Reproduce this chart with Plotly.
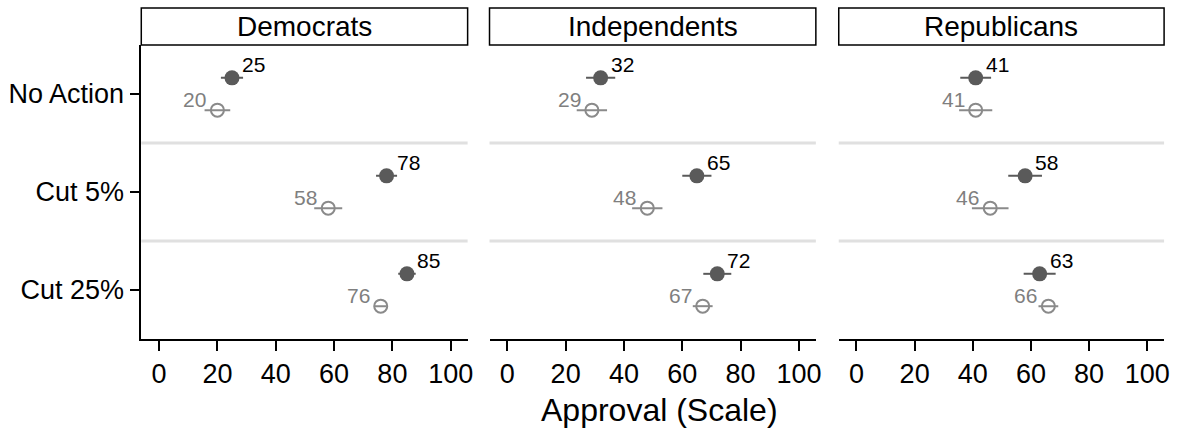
import plotly.graph_objects as go

# Panels, rows and tick labels
parties = ["Democrats", "Independents", "Republicans"]
policies = ["No Action", "Cut 5%", "Cut 25%"]
x_ticks = [0, 20, 40, 60, 80, 100]

# Mean approval per party (rows follow `policies`)
solid_mean = {
    "Democrats": [25, 78, 85],
    "Independents": [32, 65, 72],
    "Republicans": [41, 58, 63],
}
hollow_mean = {
    "Democrats": [20, 58, 76],
    "Independents": [29, 48, 67],
    "Republicans": [41, 46, 66],
}
# Half-width of the confidence interval
solid_ci = {
    "Democrats": [3.8, 3.6, 3.0],
    "Independents": [5.0, 5.0, 4.8],
    "Republicans": [5.3, 5.8, 5.5],
}
hollow_ci = {
    "Democrats": [4.4, 4.8, 2.0],
    "Independents": [5.2, 5.2, 3.4],
    "Republicans": [5.7, 6.3, 3.4],
}

W, H = 1188, 434
FONT = "Liberation Sans, Arial, sans-serif"
SOLID = "#5a5a5a"
HOLLOW = "#8a8a8a"
HOLLOW_TXT = "#7f7f7f"

panel_px = [(142, 470), (492, 820), (843, 1170)]
plot_top, plot_bot = 45, 339
strip_top = 8
y_lo = 1 - plot_bot / H
y_hi = 1 - plot_top / H
offset = 0.165  # vertical offset of the two series within a row

fig = go.Figure()
annotations = []
shapes = []

for i, party in enumerate(parties):
    ax = "" if i == 0 else str(i + 1)
    xref, yref = "x" + ax, "y" + ax
    rows = list(range(len(policies)))

    fig.add_trace(go.Scatter(
        x=solid_mean[party], y=[r - offset for r in rows],
        mode="markers", xaxis=xref, yaxis=yref, showlegend=False,
        marker=dict(size=15, color=SOLID, line=dict(width=0)),
        error_x=dict(type="data", array=solid_ci[party], color=SOLID,
                     thickness=2, width=0),
    ))
    fig.add_trace(go.Scatter(
        x=hollow_mean[party], y=[r + offset for r in rows],
        mode="markers", xaxis=xref, yaxis=yref, showlegend=False,
        marker=dict(size=13, symbol="circle-open", color=HOLLOW,
                    line=dict(width=2, color=HOLLOW)),
        error_x=dict(type="data", array=hollow_ci[party], color=HOLLOW,
                     thickness=2, width=0),
    ))

    for r in rows:
        v = solid_mean[party][r]
        annotations.append(dict(
            x=v, y=r - offset, xref=xref, yref=yref, text=str(v),
            showarrow=False, xanchor="left", yanchor="middle",
            xshift=8, yshift=13, font=dict(size=21, color="black", family=FONT)))
        v = hollow_mean[party][r]
        annotations.append(dict(
            x=v, y=r + offset, xref=xref, yref=yref, text=str(v),
            showarrow=False, xanchor="right", yanchor="middle",
            xshift=-9, yshift=11, font=dict(size=21, color=HOLLOW_TXT, family=FONT)))

    # light separators between rows
    for yy in (0.5, 1.5):
        shapes.append(dict(type="line", xref=xref + " domain", yref=yref,
                           x0=0, x1=1, y0=yy, y1=yy,
                           line=dict(color="#e0e0e0", width=3), layer="below"))

    # strip header
    x0, x1 = panel_px[i]
    shapes.append(dict(type="rect", xref="paper", yref="paper",
                       x0=x0 / W, x1=x1 / W, y0=y_hi, y1=1 - strip_top / H,
                       line=dict(color="black", width=1.5), fillcolor="white"))
    annotations.append(dict(x=(x0 + x1) / 2 / W, y=(y_hi + 1 - strip_top / H) / 2,
                            xref="paper", yref="paper", text=party, showarrow=False,
                            xanchor="center", yanchor="middle",
                            font=dict(size=28, color="black", family=FONT)))

    fig.layout["xaxis" + ax] = dict(
        domain=[x0 / W, x1 / W], range=[-6.1, 105.8], anchor=yref,
        tickvals=x_ticks, ticks="outside", ticklen=10, tickwidth=1.5,
        tickcolor="black", showline=True, linecolor="black", linewidth=1.5,
        showgrid=False, zeroline=False,
        tickfont=dict(size=27, color="black", family=FONT))
    fig.layout["yaxis" + ax] = dict(
        domain=[y_lo, y_hi], range=[2.5, -0.5], anchor=xref,
        tickvals=rows, ticktext=policies if i == 0 else None,
        showticklabels=(i == 0), ticks="outside" if i == 0 else "",
        ticklen=10, tickwidth=1.5, tickcolor="black",
        showline=(i == 0), linecolor="black", linewidth=1.5,
        showgrid=False, zeroline=False,
        tickfont=dict(size=27, color="black", family=FONT))

annotations.append(dict(x=663 / W, y=1 - 410 / H, xref="paper", yref="paper",
                        text="Approval (Scale)", showarrow=False,
                        xanchor="center", yanchor="middle",
                        font=dict(size=32, color="black", family=FONT)))

fig.update_layout(
    width=W, height=H, margin=dict(l=0, r=0, t=0, b=0),
    paper_bgcolor="white", plot_bgcolor="white",
    annotations=annotations, shapes=shapes,
)

fig.write_html("out.html")
